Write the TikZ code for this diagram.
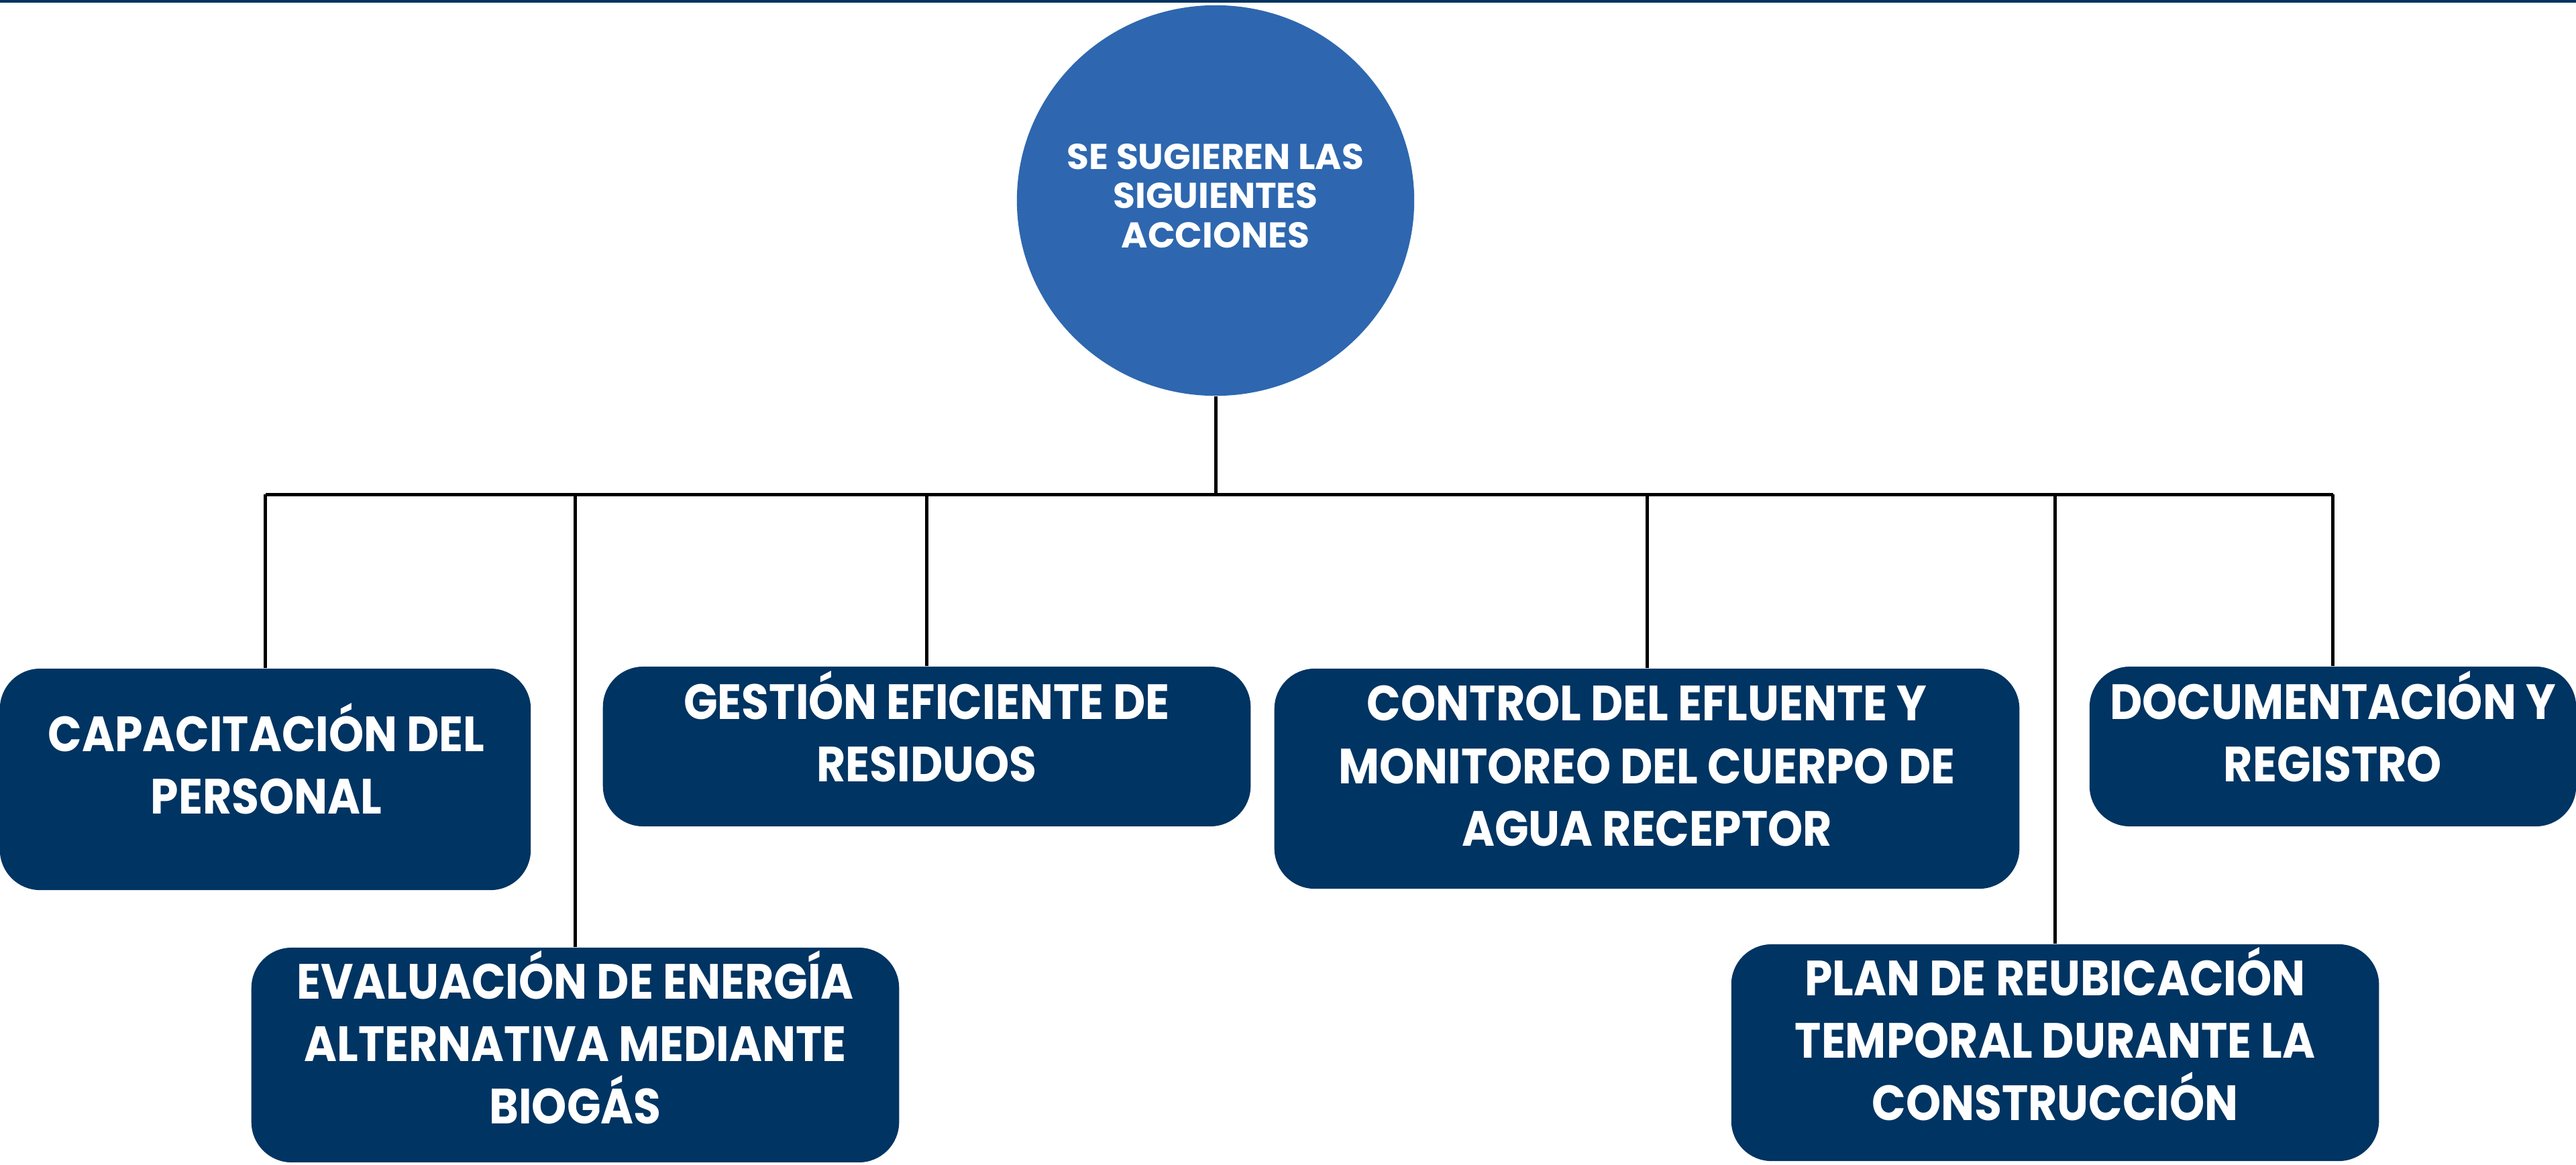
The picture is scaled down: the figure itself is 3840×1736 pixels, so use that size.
\documentclass[tikz,border=0pt]{standalone}
\usepackage{fontspec}
\usetikzlibrary{shapes.geometric}
\setmainfont{Poppins}
\newfontfamily\circfont{Poppins}
\newfontfamily\boxfont{Poppins}[FakeStretch=0.90]
\definecolor{circblue}{RGB}{46,103,175}
\definecolor{boxblue}{RGB}{0,52,98}
\definecolor{topline}{RGB}{0,51,95}
\tikzset{
  circnode/.style={ellipse, fill=circblue, draw=none, inner sep=0pt},
  bx/.style={rectangle, fill=boxblue, draw=none, rounded corners=0.6cm, inner sep=0pt},
  bxtext/.style={text=white, align=center, inner sep=0pt, font=\boxfont\bfseries\fontsize{21}{26.5}\selectfont},
  ctext/.style={text=white, align=center, inner sep=0pt, font=\circfont\bfseries\fontsize{15.2}{16.6}\selectfont},
  conn/.style={draw=black, line width=0.05cm}
}
\begin{document}
\begin{tikzpicture}[x=0.01cm,y=-0.01cm]
\useasboundingbox (0,0) rectangle (3840,1736);
\fill[topline] (0,0) rectangle (3840,4);
% central circle
\node[circnode, minimum width=5.92cm, minimum height=5.82cm] (c) at (1812,299) {};
\node[ctext] (ct) at (1812,292) {SE SUGIEREN LAS\\SIGUIENTES\\ACCIONES};
% boxes
\node[bx, minimum width=7.91cm, minimum height=3.30cm] (b1) at (395.5,1162) {};
\node[bxtext] (t1) at (397,1131) {CAPACITACIÓN DEL\\PERSONAL};
\node[bx, minimum width=9.65cm, minimum height=2.38cm] (b2) at (1381.5,1113) {};
\node[bxtext] (t2) at (1381.5,1083) {GESTIÓN EFICIENTE DE\\RESIDUOS};
\node[bx, minimum width=11.10cm, minimum height=3.28cm] (b3) at (2455,1161) {};
\node[bxtext] (t3) at (2455,1142) {CONTROL DEL EFLUENTE Y\\MONITOREO DEL CUERPO DE\\AGUA RECEPTOR};
\node[bx, minimum width=7.25cm, minimum height=2.38cm] (b4) at (3477.5,1113) {};
\node[bxtext] (t4) at (3477.5,1083) {DOCUMENTACIÓN Y\\REGISTRO};
\node[bx, minimum width=9.65cm, minimum height=3.20cm] (b5) at (857.5,1573) {};
\node[bxtext] (t5) at (857.5,1547) {EVALUACIÓN DE ENERGÍA\\ALTERNATIVA MEDIANTE\\BIOGÁS};
\node[bx, minimum width=9.65cm, minimum height=3.23cm] (b6) at (3063.5,1569.5) {};
\node[bxtext] (t6) at (3063.5,1542) {PLAN DE REUBICACIÓN\\TEMPORAL DURANTE LA\\CONSTRUCCIÓN};
% connectors
\coordinate (bus) at (0,737);
\draw[conn] (c.south) -- (c.south |- bus);
\draw[conn] (b1.north |- bus) -- (b4.north |- bus);
\foreach \b in {b1,b2,b3,b4,b5,b6}{
  \draw[conn] (\b.north |- bus) -- (\b.north);
}
\end{tikzpicture}
\end{document}
